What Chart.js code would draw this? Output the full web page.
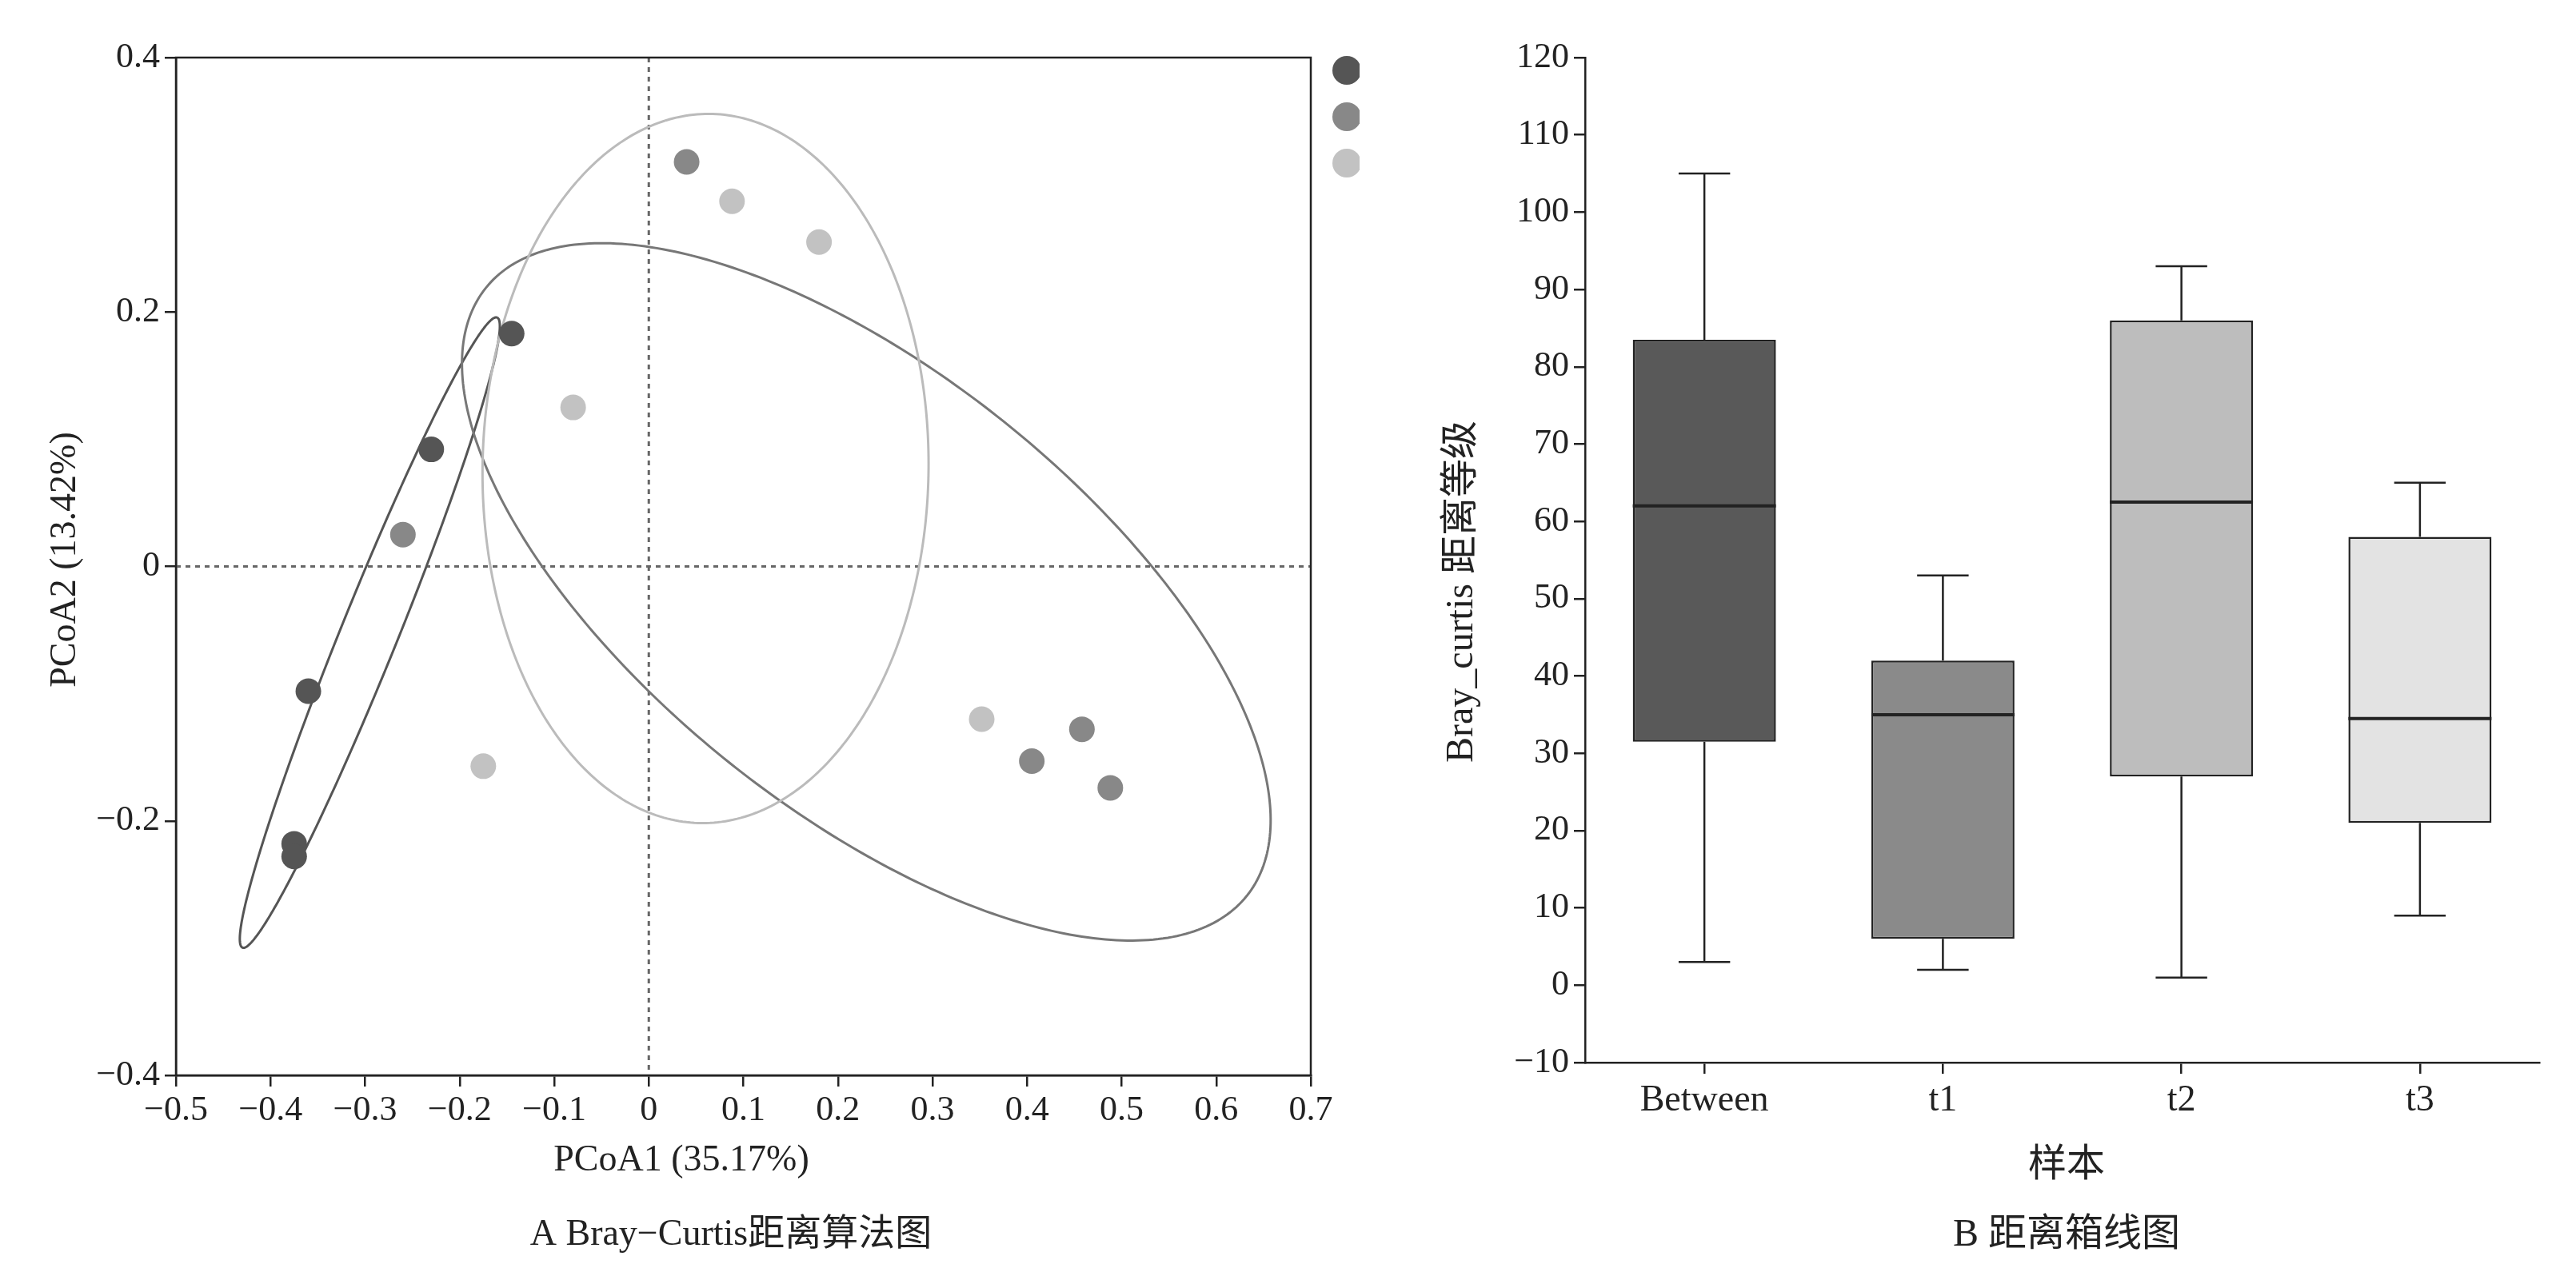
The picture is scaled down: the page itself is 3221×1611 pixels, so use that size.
<!DOCTYPE html>
<html><head><meta charset="utf-8">
<script src="https://cdn.jsdelivr.net/npm/chart.js@4"></script>
<style>body{margin:0;background:#fff;width:3221px;height:1611px;overflow:hidden;position:relative}
#a{position:absolute;left:0;top:0}#b{position:absolute;left:1700px;top:0}</style></head>
<body><canvas id="a" width="1700" height="1611"></canvas><canvas id="b" width="1521" height="1611"></canvas>
<script>
const FONT='"Liberation Serif","Noto Sans CJK SC",serif';
// PCoA points
const t1X=[-0.145,-0.23,-0.36,-0.375,-0.375];
const t1Y=[0.183,0.092,-0.098,-0.218,-0.228];
const t2X=[0.04,-0.26,0.405,0.458,0.488];
const t2Y=[0.318,0.025,-0.153,-0.128,-0.174];
const t3X=[0.088,0.18,-0.08,-0.175,0.352];
const t3Y=[0.287,0.255,0.125,-0.157,-0.12];
const groupNames=['t1','t2','t3'];
const groupColors=['#555555','#888888','#c2c2c2'];
const ellipseColors=['#555555','#777777','#bbbbbb'];
// ellipse: center, axis vector u, axis vector v (data units)
const ellCenters=[[-0.295,-0.052],[0.23,-0.02],[0.06,0.077]];
const ellU=[[0.135,0.2475],[0.42,-0.215],[0.02,0.278]];
const ellV=[[0.026,-0.012],[0.08,0.17],[0.235,-0.02]];
const xTicksA=[-0.5,-0.4,-0.3,-0.2,-0.1,0,0.1,0.2,0.3,0.4,0.5,0.6,0.7];
const yTicksA=[-0.4,-0.2,0,0.2,0.4];
// Box plot
const boxCats=['Between','t1','t2','t3'];
const boxMin=[3,2,1,9];
const boxQ1=[31.5,6,27,21];
const boxMed=[62,35,62.5,34.5];
const boxQ3=[83.5,42,86,58];
const boxMax=[105,53,93,65];
const boxColors=['#595959','#8a8a8a','#bdbdbd','#e3e3e3'];

const fmt=v=>String(Math.round(v*10)/10).replace('-','\u2212');
const pts=(xs,ys)=>xs.map((x,i)=>({x,y:ys[i]}));

const plugA={id:'pa',
 beforeDatasetsDraw(c){const {ctx,scales:{x,y},chartArea:a}=c;ctx.save();
  ctx.setLineDash([6,6]);ctx.strokeStyle='#666';ctx.lineWidth=3;
  ctx.beginPath();ctx.moveTo(x.getPixelForValue(0),a.top);ctx.lineTo(x.getPixelForValue(0),a.bottom);
  ctx.moveTo(a.left,y.getPixelForValue(0));ctx.lineTo(a.right,y.getPixelForValue(0));ctx.stroke();
  ctx.setLineDash([]);
  ellCenters.forEach((cen,k)=>{ctx.strokeStyle=ellipseColors[k];ctx.lineWidth=3;ctx.beginPath();
   for(let i=0;i<=360;i++){const t=i*Math.PI/180;
    const px=x.getPixelForValue(cen[0]+Math.cos(t)*ellU[k][0]+Math.sin(t)*ellV[k][0]);
    const py=y.getPixelForValue(cen[1]+Math.cos(t)*ellU[k][1]+Math.sin(t)*ellV[k][1]);
    i?ctx.lineTo(px,py):ctx.moveTo(px,py);}ctx.stroke();});
  ctx.restore();},
 afterDraw(c){const {ctx,chartArea:a}=c;ctx.save();ctx.strokeStyle='#222';ctx.lineWidth=2.5;
  ctx.strokeRect(a.left,a.top,a.right-a.left,a.bottom-a.top);
  ctx.fillStyle='#222';ctx.font='46px '+FONT;ctx.textBaseline='middle';
  groupNames.forEach((g,i)=>{ctx.fillStyle=groupColors[i];ctx.beginPath();ctx.arc(1684,88+i*58,18,0,7);ctx.fill();
   ctx.fillStyle='#222';ctx.textAlign='left';ctx.fillText(g,1706,90+i*58);});
  ctx.textAlign='center';ctx.fillText('PCoA1 (35.17%)',852,1452);ctx.fillText('A Bray\u2212Curtis距离算法图',914,1545);
  ctx.translate(82,700);ctx.rotate(-Math.PI/2);ctx.fillText('PCoA2 (13.42%)',0,0);ctx.restore();}};

new Chart(document.getElementById('a'),{type:'scatter',
 data:{datasets:groupNames.map((g,i)=>({label:g,data:pts([t1X,t2X,t3X][i],[t1Y,t2Y,t3Y][i]),
  backgroundColor:groupColors[i],borderWidth:0,pointRadius:16}))},
 options:{responsive:false,animation:false,events:[],
  layout:{padding:{left:0,right:61,top:72,bottom:0}},
  plugins:{legend:{display:false},tooltip:{enabled:false}},
  scales:{x:{type:'linear',min:-0.5,max:0.7,afterFit:s=>{s.height=266},
    afterBuildTicks:s=>{s.ticks=xTicksA.map(v=>({value:v}))},
    grid:{drawOnChartArea:false,tickLength:14,color:'#222',lineWidth:2.5},border:{color:'#222',width:2.5},
    ticks:{color:'#222',font:{family:FONT,size:44},callback:fmt,maxRotation:0,padding:4}},
   y:{type:'linear',min:-0.4,max:0.4,afterFit:s=>{s.width=220},
    afterBuildTicks:s=>{s.ticks=yTicksA.map(v=>({value:v}))},
    grid:{drawOnChartArea:false,tickLength:14,color:'#222',lineWidth:2.5},border:{color:'#222',width:2.5},
    ticks:{color:'#222',font:{family:FONT,size:44},callback:fmt,padding:6}}}},
 plugins:[plugA]});

const plugB={id:'pb',
 afterDatasetsDraw(c){const {ctx,scales:{y}}=c;const meta=c.getDatasetMeta(0);ctx.save();
  ctx.strokeStyle='#222';ctx.lineWidth=2.5;
  meta.data.forEach((el,i)=>{const cx=el.x,w=el.width,cap=w*0.18;
   const pMin=y.getPixelForValue(boxMin[i]),pMax=y.getPixelForValue(boxMax[i]);
   const pQ1=y.getPixelForValue(boxQ1[i]),pQ3=y.getPixelForValue(boxQ3[i]);
   ctx.beginPath();ctx.moveTo(cx,pQ3);ctx.lineTo(cx,pMax);ctx.moveTo(cx-cap,pMax);ctx.lineTo(cx+cap,pMax);
   ctx.moveTo(cx,pQ1);ctx.lineTo(cx,pMin);ctx.moveTo(cx-cap,pMin);ctx.lineTo(cx+cap,pMin);ctx.stroke();
   ctx.lineWidth=4;ctx.beginPath();const pm=y.getPixelForValue(boxMed[i]);ctx.moveTo(cx-w/2,pm);ctx.lineTo(cx+w/2,pm);ctx.stroke();ctx.lineWidth=2.5;});
  ctx.fillStyle='#222';ctx.font='48px '+FONT;ctx.textAlign='center';ctx.textBaseline='middle';
  ctx.fillText('样本',884,1458);ctx.fillText('B 距离箱线图',884,1545);
  ctx.translate(128,740);ctx.rotate(-Math.PI/2);ctx.fillText('Bray_curtis 距离等级',0,0);ctx.restore();}};

new Chart(document.getElementById('b'),{type:'bar',
 data:{labels:boxCats,datasets:[{data:boxQ1.map((q,i)=>[q,boxQ3[i]]),backgroundColor:boxColors,
  borderColor:'#222',borderWidth:2.5,borderSkipped:false,barPercentage:0.6,categoryPercentage:1}]},
 options:{responsive:false,animation:false,events:[],
  layout:{padding:{left:0,right:46,top:72,bottom:0}},
  plugins:{legend:{display:false},tooltip:{enabled:false}},
  scales:{x:{afterFit:s=>{s.height=282},grid:{display:true,drawOnChartArea:false,offset:false,tickLength:14,color:'#222',lineWidth:2.5},
    border:{color:'#222',width:2.5},ticks:{color:'#222',font:{family:FONT,size:46},padding:6}},
   y:{min:-10,max:120,afterFit:s=>{s.width=282},grid:{drawOnChartArea:false,tickLength:14,color:'#222',lineWidth:2.5},
    border:{color:'#222',width:2.5},ticks:{stepSize:10,color:'#222',font:{family:FONT,size:44},callback:fmt,padding:6}}}},
 plugins:[plugB]});
</script></body></html>
